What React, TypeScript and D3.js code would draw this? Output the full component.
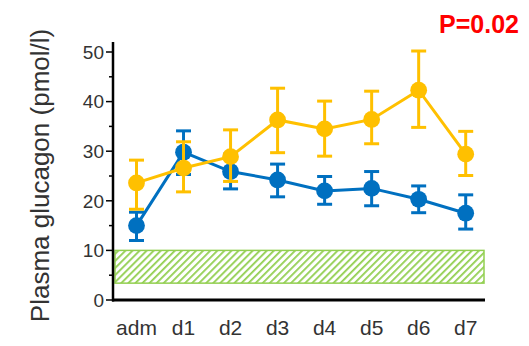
import React from "react";
import * as d3 from "d3";

const categories = ["adm", "d1", "d2", "d3", "d4", "d5", "d6", "d7"];
const yellowMean = [23.6, 26.6, 28.9, 36.3, 34.5, 36.4, 42.3, 29.4];
const yellowUpper = [28.2, 31.9, 34.3, 42.7, 40.1, 42.1, 50.2, 34.0];
const yellowLower = [18.3, 21.8, 23.9, 29.7, 29.0, 31.5, 34.8, 25.1];
const blueMean = [15.0, 29.8, 25.9, 24.2, 22.0, 22.5, 20.3, 17.5];
const blueUpper = [17.7, 34.1, 29.4, 27.4, 24.9, 25.9, 23.0, 21.2];
const blueLower = [12.0, 25.3, 22.4, 20.8, 19.3, 19.0, 17.6, 14.3];
const majorTicks = [0, 10, 20, 30, 40, 50];
const minorTicks = [5, 15, 25, 35, 45];
const refRange = [3.4, 10];
const pValue = "P=0.02";
const yLabel = "Plasma glucagon (pmol/l)";

const W = 529;
const H = 346;
const YELLOW = "#FFC000";
const BLUE = "#0070C0";
const GREEN = "#92CF50";

export default function App() {
  const y = d3.scaleLinear().domain([0, 50]).range([300, 52]);
  const x = d3.scalePoint<string>().domain(categories).range([136.5, 465.7]);
  const axisLeft = 113;
  const axisRight = 485;
  const line = d3
    .line<number>()
    .x((_, i) => x(categories[i]) as number)
    .y((d) => y(d));

  const series = [
    { mean: blueMean, up: blueUpper, lo: blueLower, color: BLUE },
    { mean: yellowMean, up: yellowUpper, lo: yellowLower, color: YELLOW },
  ];
  const cap = 7.5;
  const font = "'Liberation Sans', Arial, Helvetica, sans-serif";

  return (
    <svg
      width={W}
      height={H}
      style={{ position: "absolute", left: 0, top: 0, background: "#fff" }}
    >
      <defs>
        <pattern
          id="hatch"
          patternUnits="userSpaceOnUse"
          width={5}
          height={5}
          patternTransform="rotate(45)"
        >
          <rect width={5} height={5} fill="#fff" />
          <line x1={0} y1={0} x2={0} y2={5} stroke={GREEN} strokeWidth={3.6} />
        </pattern>
      </defs>

      {/* reference range */}
      <rect
        x={axisLeft + 2}
        y={y(refRange[1])}
        width={axisRight - axisLeft - 3}
        height={y(refRange[0]) - y(refRange[1])}
        fill="url(#hatch)"
        stroke={GREEN}
        strokeWidth={1.5}
      />

      {/* y axis */}
      <line x1={axisLeft} x2={axisLeft} y1={y(0) + 1.5} y2={y(52)} stroke="#000" strokeWidth={2.5} />
      {majorTicks.map((t) => (
        <g key={"M" + t}>
          <line x1={axisLeft - 7} x2={axisLeft} y1={y(t)} y2={y(t)} stroke="#000" strokeWidth={1.5} />
          <text
            x={axisLeft - 9}
            y={y(t)}
            dy="0.36em"
            textAnchor="end"
            fontFamily={font}
            fontSize={19}
            fill="#333"
          >
            {t}
          </text>
        </g>
      ))}
      {minorTicks.map((t) => (
        <line key={"m" + t} x1={axisLeft - 4} x2={axisLeft} y1={y(t)} y2={y(t)} stroke="#000" strokeWidth={1.5} />
      ))}

      {/* x axis */}
      <line x1={axisLeft - 1} x2={axisRight} y1={y(0)} y2={y(0)} stroke="#000" strokeWidth={3} />
      {categories.map((c) => (
        <text
          key={c}
          x={x(c)}
          y={335}
          textAnchor="middle"
          fontFamily={font}
          fontSize={21}
          fill="#333"
        >
          {c}
        </text>
      ))}

      {/* series */}
      {series.map((s, si) => (
        <g key={si}>
          <path d={line(s.mean) || ""} fill="none" stroke={s.color} strokeWidth={3} />
          {s.mean.map((m, i) => {
            const cx = x(categories[i]) as number;
            return (
              <g key={i}>
                <line x1={cx} x2={cx} y1={y(s.up[i])} y2={y(s.lo[i])} stroke={s.color} strokeWidth={3} />
                <line x1={cx - cap} x2={cx + cap} y1={y(s.up[i])} y2={y(s.up[i])} stroke={s.color} strokeWidth={3} />
                <line x1={cx - cap} x2={cx + cap} y1={y(s.lo[i])} y2={y(s.lo[i])} stroke={s.color} strokeWidth={3} />
                <circle cx={cx} cy={y(m)} r={8.4} fill={s.color} />
              </g>
            );
          })}
        </g>
      ))}

      {/* y label */}
      <text
        transform={`translate(49, ${175.5}) rotate(-90)`}
        textAnchor="middle"
        fontFamily={font}
        fontSize={26}
        fill="#333"
      >
        {yLabel}
      </text>

      {/* p value */}
      <text
        x={519}
        y={33}
        textAnchor="end"
        fontFamily={font}
        fontSize={25}
        fontWeight="bold"
        fill="#FF0000"
      >
        {pValue}
      </text>
    </svg>
  );
}
